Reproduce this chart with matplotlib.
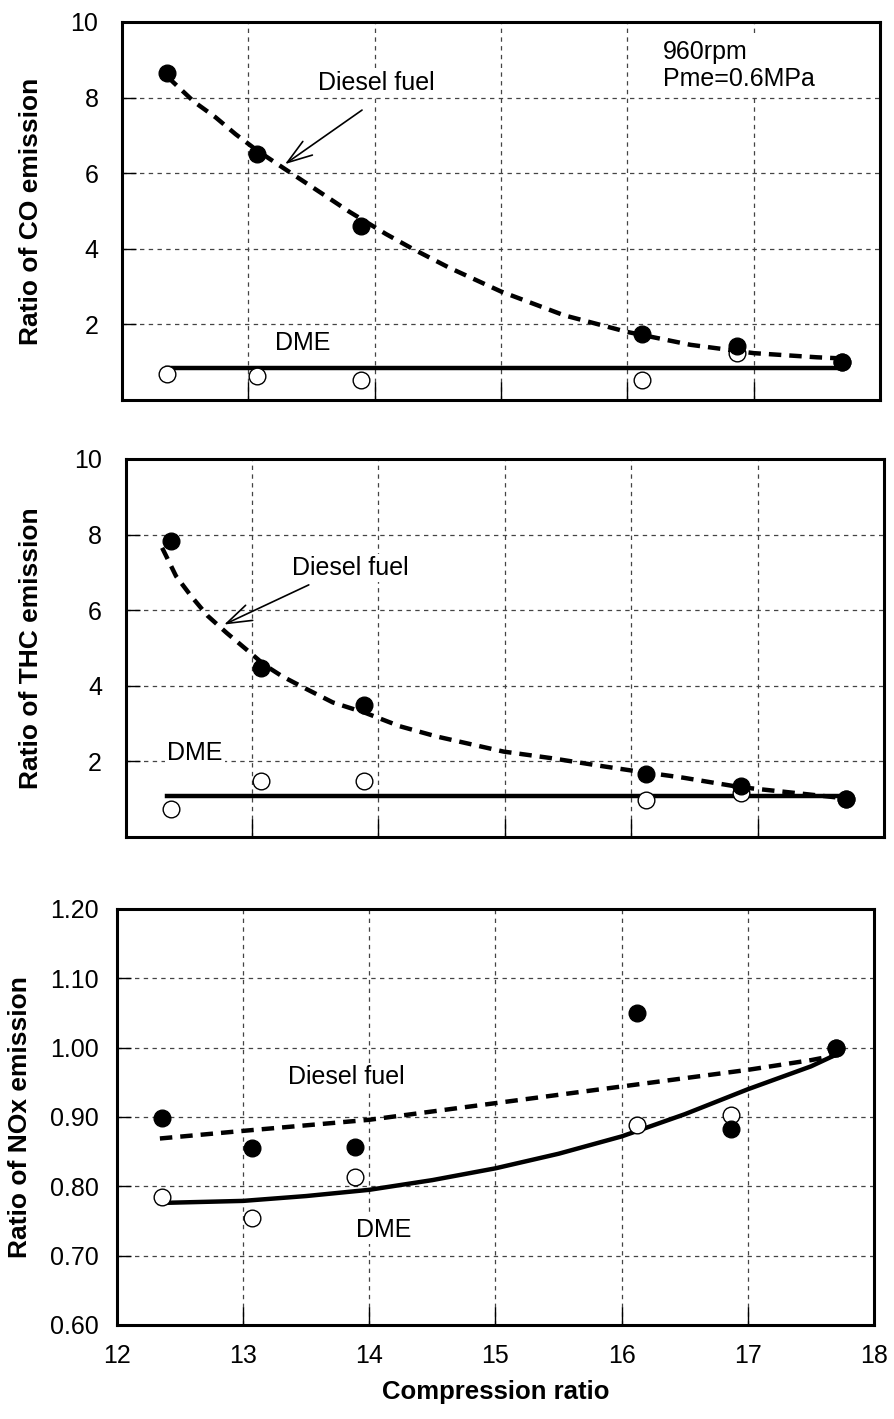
import matplotlib
matplotlib.use("Agg")
import matplotlib.pyplot as plt
from matplotlib.ticker import FixedLocator, FormatStrFormatter

plt.rcParams['font.family'] = ['Liberation Sans', 'DejaVu Sans']

# ---------------- data ----------------
x_points = [12.36, 13.07, 13.89, 16.12, 16.87, 17.70]

co_diesel = [8.65, 6.5, 4.6, 1.74, 1.43, 1.0]
co_dme = [0.68, 0.63, 0.53, 0.53, 1.25, 1.0]
co_dme_line_x = [12.36, 17.70]
co_dme_line_y = [0.84, 0.84]
co_fit_x = [12.36, 12.57, 12.74, 12.9, 13.07, 13.24, 13.43, 13.62, 13.8, 14.09, 14.3, 14.59, 15.0, 15.5, 16.0, 16.5, 17.0, 17.5, 17.7]
co_fit_y = [8.55, 7.89, 7.48, 7.03, 6.6, 6.22, 5.8, 5.38, 4.98, 4.39, 4.0, 3.5, 2.87, 2.24, 1.8, 1.46, 1.24, 1.13, 1.1]

thc_diesel = [7.82, 4.47, 3.5, 1.67, 1.34, 1.01]
thc_dme = [0.75, 1.47, 1.47, 0.99, 1.16, 1.0]
thc_dme_line_x = [12.33, 17.70]
thc_dme_line_y = [1.09, 1.09]
thc_fit_x = [12.29, 12.4, 12.52, 12.65, 12.8, 12.96, 13.1, 13.24, 13.44, 13.64, 13.9, 14.17, 14.46, 14.99, 15.36, 15.76, 16.0, 16.41, 16.86, 17.2, 17.7]
thc_fit_y = [7.65, 6.9, 6.37, 5.85, 5.4, 4.95, 4.55, 4.25, 3.9, 3.56, 3.28, 2.93, 2.66, 2.26, 2.09, 1.88, 1.76, 1.57, 1.32, 1.2, 1.02]

nox_diesel = [0.898, 0.856, 0.857, 1.05, 0.883, 1.0]
nox_dme = [0.785, 0.754, 0.813, 0.888, 0.903, 1.0]
nox_fit_diesel_x = [12.34, 13.0, 14.0, 14.5, 15.0, 15.5, 16.0, 16.5, 17.0, 17.5, 17.7]
nox_fit_diesel_y = [0.869, 0.880, 0.896, 0.908, 0.920, 0.932, 0.944, 0.956, 0.968, 0.982, 0.989]
nox_fit_dme_x = [12.34, 13.0, 13.5, 14.0, 14.5, 15.0, 15.5, 16.0, 16.5, 17.0, 17.5, 17.7]
nox_fit_dme_y = [0.776, 0.779, 0.786, 0.795, 0.809, 0.826, 0.847, 0.872, 0.904, 0.940, 0.973, 0.99]

x_ticks = [12, 13, 14, 15, 16, 17, 18]
co_yticks = [2, 4, 6, 8, 10]
thc_yticks = [2, 4, 6, 8, 10]
nox_yticks = [0.60, 0.70, 0.80, 0.90, 1.00, 1.10, 1.20]

# ---------------- figure ----------------
W, H = 894, 1419
fig = plt.figure(figsize=(W / 100, H / 100), dpi=100)

def add_ax(l, r, t, b):
    return fig.add_axes([l / W, 1 - b / H, (r - l) / W, (b - t) / H])

ax1 = add_ax(122, 880, 22, 400)
ax2 = add_ax(125.5, 884, 459, 837)
ax3 = add_ax(117, 874, 909, 1325)

FS = 18
MS = 12
FIT_DASH = (2.8, 1.8)
bbox = dict(facecolor='white', edgecolor='none', pad=1.5)
arrow = dict(arrowstyle='->,head_length=0.9,head_width=0.3', lw=1.2,
             color='black', shrinkA=0, shrinkB=0, mutation_scale=20)

def style(ax, yticks, ylim, ylabel, xlabels, ypad):
    ax.set_xlim(12, 18)
    ax.set_ylim(*ylim)
    ax.xaxis.set_major_locator(FixedLocator(x_ticks))
    ax.yaxis.set_major_locator(FixedLocator(yticks))
    ax.grid(True, color='#444444', lw=0.9, linestyle=(0, (3.5, 3.5)))
    ax.set_axisbelow(True)
    for s in ax.spines.values():
        s.set_linewidth(2.2)
    ax.tick_params(axis='x', direction='in', length=13, width=1.0, labelsize=FS,
                   pad=14, top=False, labelbottom=xlabels)
    ax.tick_params(axis='y', direction='in', length=10, width=1.0, labelsize=FS,
                   pad=ypad, right=False)
    ax.set_ylabel(ylabel, fontsize=19, fontweight='bold')

def draw_pts(ax, yd, yo):
    ax.plot(x_points, yo, 'o', ms=MS, mfc='white', mec='black', mew=1.0, zorder=4)
    ax.plot(x_points, yd, 'o', ms=MS, mfc='black', mec='black', zorder=5)

# --- CO ---
style(ax1, co_yticks, (0, 10), 'Ratio of CO emission', False, 17)
ax1.plot(co_dme_line_x, co_dme_line_y, '-', color='black', lw=3.2, zorder=3)
ax1.plot(co_fit_x, co_fit_y, color='black', lw=3.2, dashes=FIT_DASH, zorder=3)
draw_pts(ax1, co_diesel, co_dme)
ax1.text(14.01, 8.39, 'Diesel fuel', fontsize=FS, ha='center', va='center', bbox=bbox)
ax1.annotate('', xy=(13.29, 6.24), xytext=(13.90, 7.67), arrowprops=arrow)
ax1.text(16.28, 8.86, '960rpm\nPme=0.6MPa', fontsize=FS, ha='left', va='center',
         linespacing=1.15, bbox=dict(facecolor='white', edgecolor='none', pad=3))
ax1.text(13.43, 1.51, 'DME', fontsize=FS, ha='center', va='center', bbox=bbox)
ax1.yaxis.set_label_coords(-0.104, 0.5)

# --- THC ---
style(ax2, thc_yticks, (0, 10), 'Ratio of THC emission', False, 17)
ax2.plot(thc_dme_line_x, thc_dme_line_y, '-', color='black', lw=3.2, zorder=3)
ax2.plot(thc_fit_x, thc_fit_y, color='black', lw=3.2, dashes=FIT_DASH, zorder=3)
draw_pts(ax2, thc_diesel, thc_dme)
ax2.text(13.78, 7.12, 'Diesel fuel', fontsize=FS, ha='center', va='center', bbox=bbox)
ax2.annotate('', xy=(12.78, 5.62), xytext=(13.45, 6.67), arrowprops=arrow)
ax2.text(12.55, 2.22, 'DME', fontsize=FS, ha='center', va='center', bbox=bbox)
ax2.yaxis.set_label_coords(-0.109, 0.5)

# --- NOx ---
style(ax3, nox_yticks, (0.6, 1.2), 'Ratio of NOx emission', True, 13)
ax3.yaxis.set_major_formatter(FormatStrFormatter('%.2f'))
ax3.plot(nox_fit_diesel_x, nox_fit_diesel_y, color='black', lw=3.2, dashes=FIT_DASH, zorder=3)
ax3.plot(nox_fit_dme_x, nox_fit_dme_y, '-', color='black', lw=3.2, zorder=3)
draw_pts(ax3, nox_diesel, nox_dme)
ax3.text(13.82, 0.958, 'Diesel fuel', fontsize=FS, ha='center', va='center', bbox=bbox)
ax3.text(14.11, 0.737, 'DME', fontsize=FS, ha='center', va='center', bbox=bbox)
ax3.set_xlabel('Compression ratio', fontsize=18.5, fontweight='bold', labelpad=8)
ax3.yaxis.set_label_coords(-0.112, 0.5)

fig.savefig('out.png', dpi=100)
